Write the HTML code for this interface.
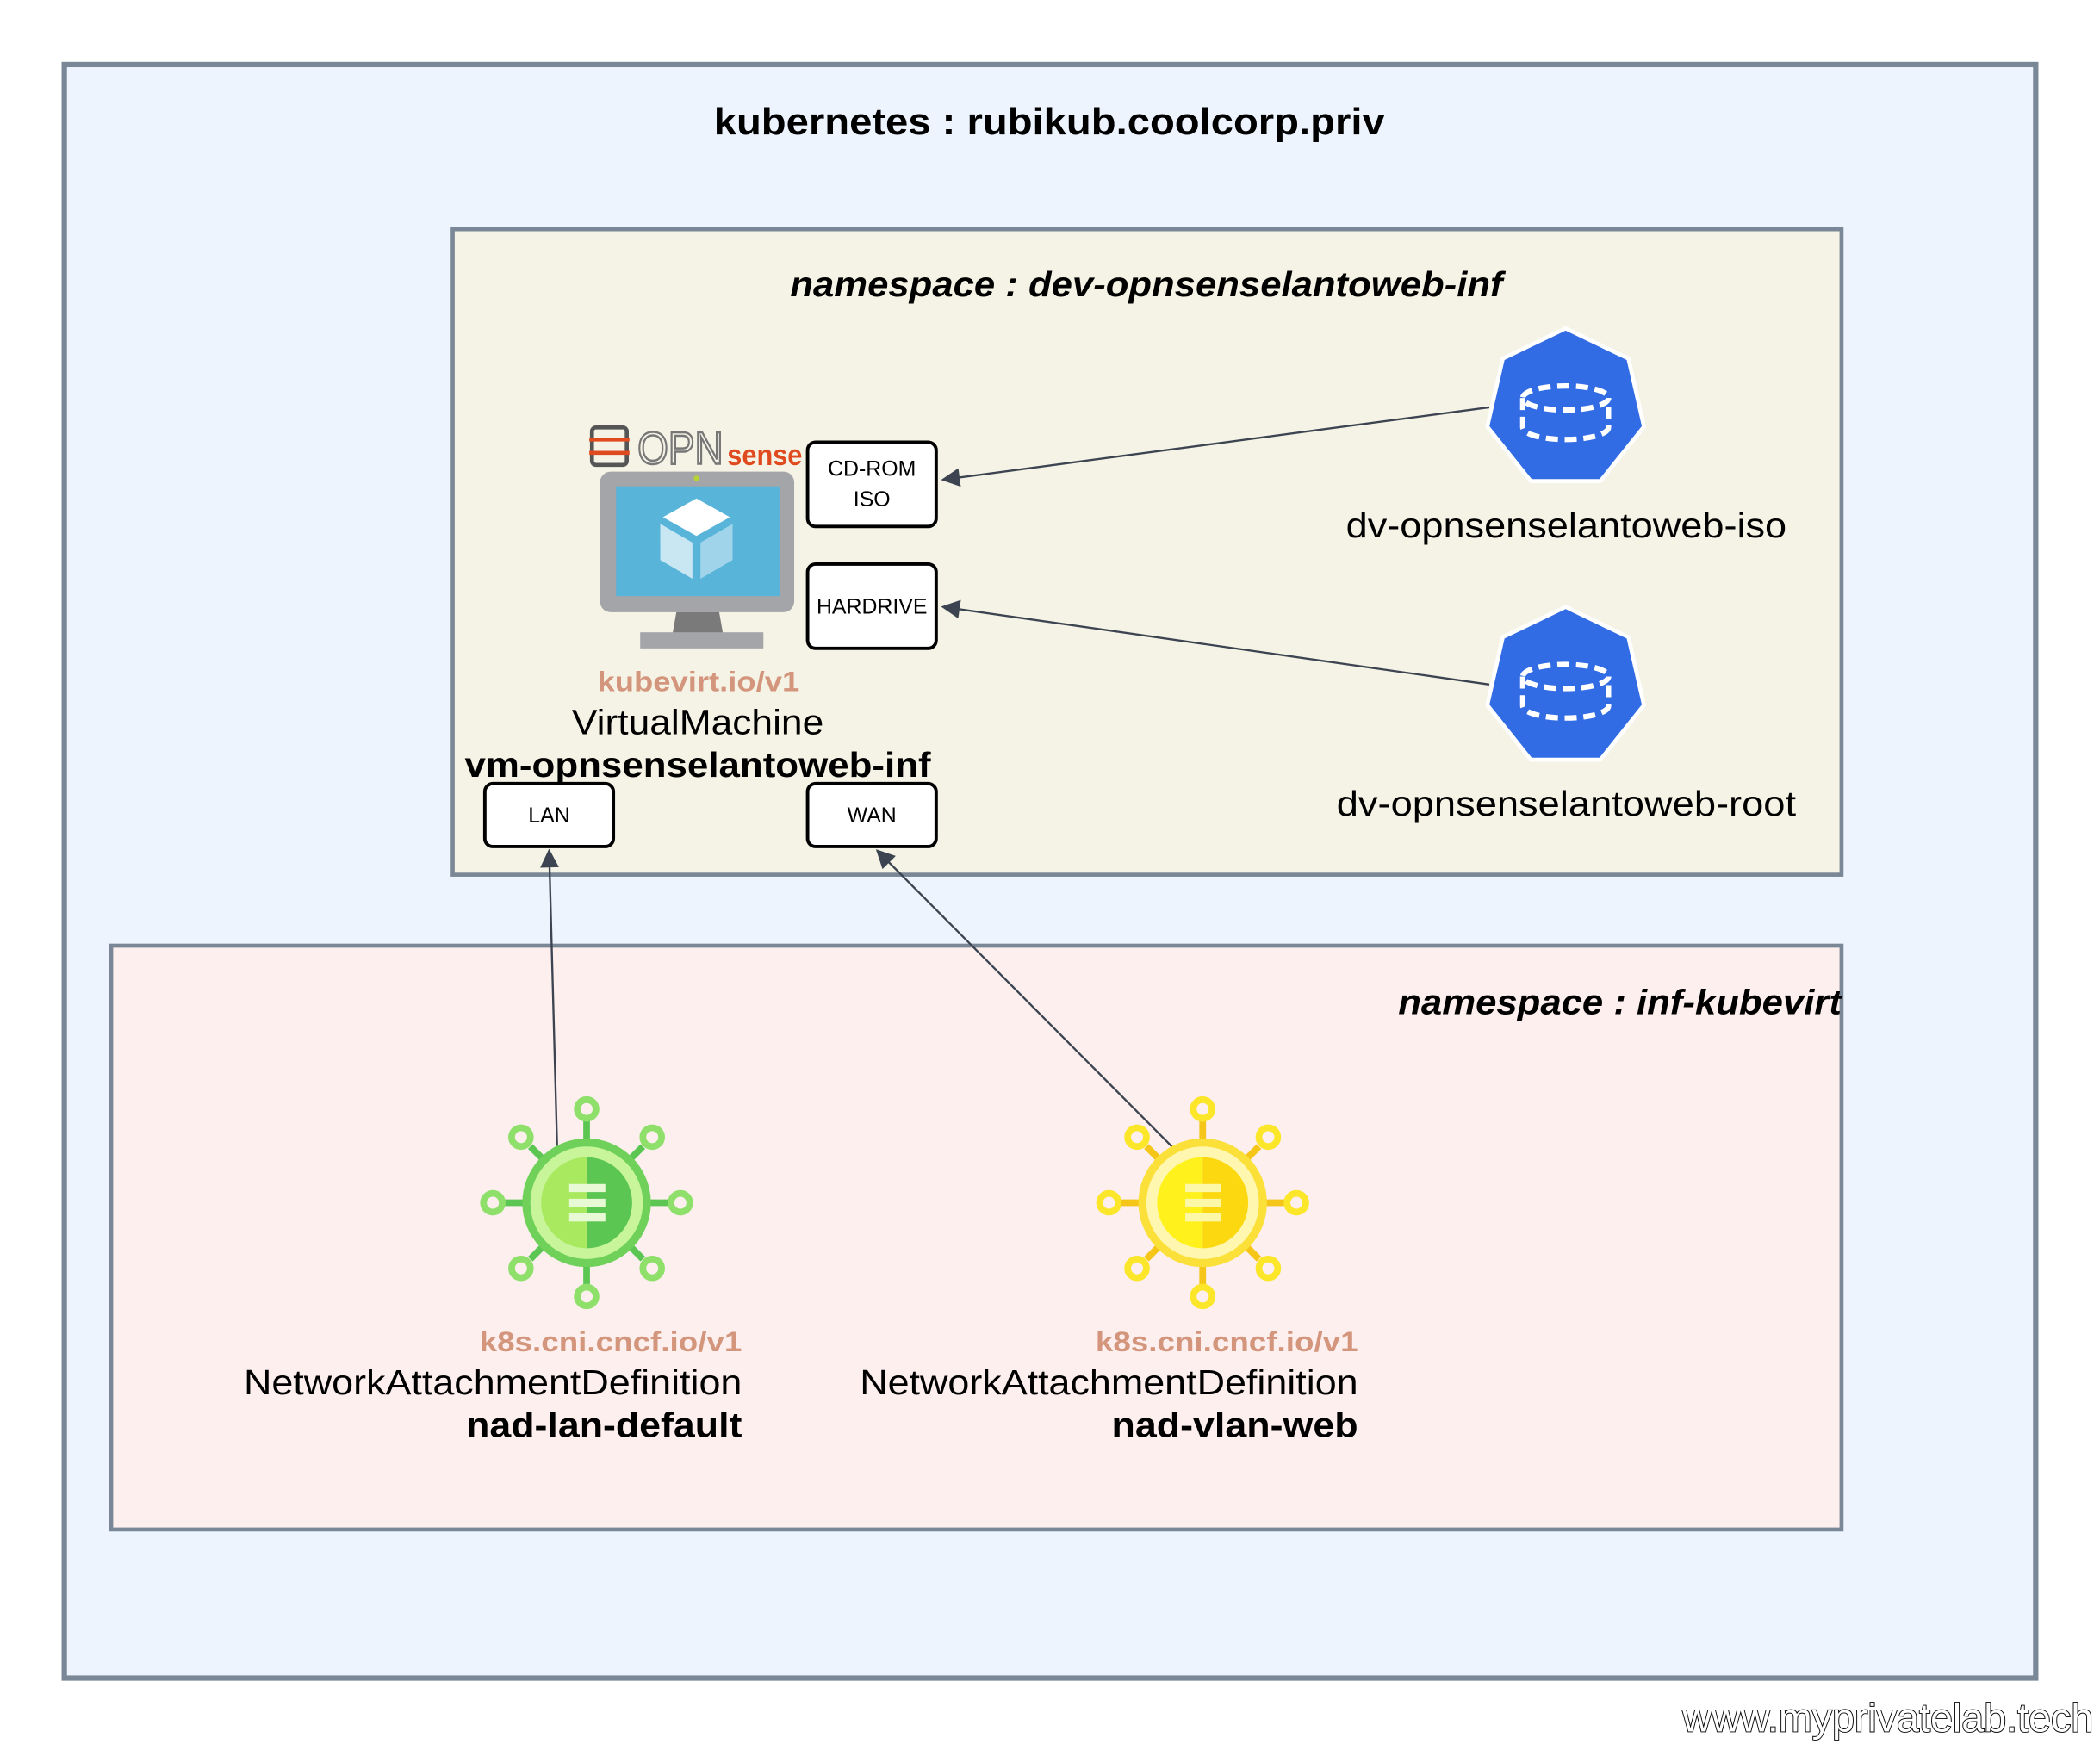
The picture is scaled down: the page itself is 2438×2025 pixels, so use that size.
<!DOCTYPE html>
<html><head><meta charset="utf-8"><style>
html,body{margin:0;padding:0;background:#fff;}
svg{display:block;}
text{font-family:"Liberation Sans",sans-serif;}
</style></head><body>
<svg width="2438" height="2025" viewBox="0 0 1568 1302" xmlns="http://www.w3.org/2000/svg">
<defs>
<marker id="ar2" viewBox="0 0 10 10" refX="9" refY="5" markerWidth="18" markerHeight="14" orient="auto" markerUnits="userSpaceOnUse">
<path d="M0,0 L10,5 L0,10 Z" fill="#3b4450"/>
</marker>
<g id="hept">
<polygon points="0,-60 46.9,-37.4 58.5,13.4 26,54.1 -26,54.1 -58.5,13.4 -46.9,-37.4" fill="#326ce5" stroke="#fff" stroke-width="3" stroke-linejoin="round"/>
<g fill="none" stroke="#fff" stroke-width="4" stroke-dasharray="9,5">
<ellipse cx="0" cy="-8" rx="32" ry="9"/>
<path d="M-32,-8 V14 A32,9 0 0 0 32,14 V-8"/>
</g>
</g>
<g id="nadspokes">
<g stroke-width="5">
<line x1="0" y1="0" x2="0" y2="-62"/><line x1="0" y1="0" x2="0" y2="62"/>
<line x1="0" y1="0" x2="62" y2="0"/><line x1="0" y1="0" x2="-62" y2="0"/>
<line x1="0" y1="0" x2="42" y2="-42"/><line x1="0" y1="0" x2="-42" y2="-42"/>
<line x1="0" y1="0" x2="42" y2="42"/><line x1="0" y1="0" x2="-42" y2="42"/>
</g>
</g>
</defs>

<rect width="1568" height="1302" fill="#fff"/>
<rect x="48" y="48" width="1472" height="1205" fill="#edf4fe" stroke="#7a8797" stroke-width="4"/>
<text x="533" y="100" font-size="28" font-weight="bold" fill="#000" textLength="501" lengthAdjust="spacingAndGlyphs">kubernetes : rubikub.coolcorp.priv</text>

<rect x="338" y="171" width="1037" height="482" fill="#f5f3e5" stroke="#7a8797" stroke-width="3"/>
<text x="590" y="221" font-size="26" font-weight="bold" font-style="italic" fill="#000" textLength="532" lengthAdjust="spacingAndGlyphs">namespace : dev-opnsenselantoweb-inf</text>

<rect x="83" y="706" width="1292" height="436" fill="#fcefed" stroke="#7a8797" stroke-width="3"/>
<text x="1044" y="757" font-size="26" font-weight="bold" font-style="italic" fill="#000" textLength="331" lengthAdjust="spacingAndGlyphs">namespace : inf-kubevirt</text>

<!-- OPNsense logo -->
<g>
<rect x="442" y="319" width="26" height="28" rx="3" fill="none" stroke="#555" stroke-width="3"/>
<line x1="440" y1="328" x2="470" y2="328" stroke="#e04a1f" stroke-width="3"/>
<line x1="440" y1="338" x2="470" y2="338" stroke="#e04a1f" stroke-width="3"/>
<text x="476" y="346" font-size="34" fill="none" stroke="#777" stroke-width="1.6" textLength="64" lengthAdjust="spacingAndGlyphs">OPN</text>
<text x="543" y="347" font-size="22" font-weight="bold" fill="#e04a1f" textLength="56" lengthAdjust="spacingAndGlyphs">sense</text>
</g>
<!-- Monitor -->
<rect x="448" y="352" width="145" height="105" rx="8" fill="#a3a5a8"/>
<rect x="460" y="363" width="122" height="82" fill="#59b4d9"/>
<circle cx="520" cy="357" r="2" fill="#b8d432"/>
<path d="M505,457 L537,457 L540,474 L502,474 Z" fill="#7a7a7a"/>
<rect x="478" y="472" width="92" height="12" fill="#a3a5a8"/>
<polygon points="520,372 545,386 520,400 495,386" fill="#fff"/>
<polygon points="493,391 517,405 517,432 493,418" fill="#c9e6f3"/>
<polygon points="523,405 547,391 547,418 523,432" fill="#9fd4ea"/>

<text x="446" y="516" font-size="21" font-weight="bold" fill="#d4957d" textLength="151" lengthAdjust="spacingAndGlyphs">kubevirt.io/v1</text>
<text x="427" y="548" font-size="26" fill="#000" textLength="188" lengthAdjust="spacingAndGlyphs">VirtualMachine</text>
<text x="347" y="580" font-size="26" font-weight="bold" fill="#000" textLength="348" lengthAdjust="spacingAndGlyphs">vm-opnsenselantoweb-inf</text>

<!-- port boxes -->
<g fill="#fff" stroke="#000" stroke-width="2.5">
<rect x="603" y="330" width="96" height="63" rx="6"/>
<rect x="603" y="421" width="96" height="63" rx="6"/>
<rect x="362" y="585" width="96" height="47" rx="6"/>
<rect x="603" y="585" width="96" height="47" rx="6"/>
</g>
<g font-size="16" text-anchor="middle" fill="#000">
<text x="651" y="355">CD-ROM</text>
<text x="651" y="378">ISO</text>
<text x="651" y="458">HARDRIVE</text>
<text x="410" y="614">LAN</text>
<text x="651" y="614">WAN</text>
</g>

<!-- heptagons -->
<use href="#hept" transform="translate(1169,305)"/>
<use href="#hept" transform="translate(1169,513)"/>
<text x="1005" y="401" font-size="26" fill="#000" textLength="329" lengthAdjust="spacingAndGlyphs">dv-opnsenselantoweb-iso</text>
<text x="998" y="609" font-size="26" fill="#000" textLength="343" lengthAdjust="spacingAndGlyphs">dv-opnsenselantoweb-root</text>

<!-- connectors -->
<g stroke="#3b4450" stroke-width="1.5" fill="none">
<line x1="1112" y1="304" x2="704" y2="358" marker-end="url(#ar2)"/>
<line x1="1112" y1="511" x2="704" y2="453" marker-end="url(#ar2)"/>
<line x1="416" y1="857" x2="410" y2="635" marker-end="url(#ar2)"/>
<line x1="876" y1="857" x2="655" y2="635" marker-end="url(#ar2)"/>
</g>

<!-- NAD green -->
<g transform="translate(438,898)">
<use href="#nadspokes" stroke="#5cc653"/>
<g fill="none" stroke="#8ee06a" stroke-width="5">
<circle cx="0" cy="-70" r="7"/><circle cx="0" cy="70" r="7"/>
<circle cx="70" cy="0" r="7"/><circle cx="-70" cy="0" r="7"/>
<circle cx="49" cy="-49" r="7"/><circle cx="-49" cy="-49" r="7"/>
<circle cx="49" cy="49" r="7"/><circle cx="-49" cy="49" r="7"/>
</g>
<circle r="45" fill="#c8f59a"/>
<circle r="45" fill="none" stroke="#6fd15a" stroke-width="6"/>
<path d="M0,-34 A34,34 0 0 0 0,34 Z" fill="#a8e95f"/>
<path d="M0,-34 A34,34 0 0 1 0,34 Z" fill="#5cc653"/>
<g fill="#e8f9d6"><rect x="-13" y="-14" width="27" height="6"/><rect x="-13" y="-3" width="27" height="6"/><rect x="-13" y="8" width="27" height="6"/></g>
</g>
<!-- NAD yellow -->
<g transform="translate(898,898)">
<use href="#nadspokes" stroke="#f5c518"/>
<g fill="none" stroke="#fbe62a" stroke-width="5">
<circle cx="0" cy="-70" r="7"/><circle cx="0" cy="70" r="7"/>
<circle cx="70" cy="0" r="7"/><circle cx="-70" cy="0" r="7"/>
<circle cx="49" cy="-49" r="7"/><circle cx="-49" cy="-49" r="7"/>
<circle cx="49" cy="49" r="7"/><circle cx="-49" cy="49" r="7"/>
</g>
<circle r="45" fill="#fff7b0"/>
<circle r="45" fill="none" stroke="#fbe03a" stroke-width="6"/>
<path d="M0,-34 A34,34 0 0 0 0,34 Z" fill="#fff21c"/>
<path d="M0,-34 A34,34 0 0 1 0,34 Z" fill="#fbd80f"/>
<g fill="#fdf7a8"><rect x="-13" y="-14" width="27" height="6"/><rect x="-13" y="-3" width="27" height="6"/><rect x="-13" y="8" width="27" height="6"/></g>
</g>

<g>
<text x="358" y="1009" font-size="21" font-weight="bold" fill="#d4957d" textLength="196" lengthAdjust="spacingAndGlyphs">k8s.cni.cncf.io/v1</text>
<text x="182" y="1041" font-size="26" fill="#000" textLength="372" lengthAdjust="spacingAndGlyphs">NetworkAttachmentDefinition</text>
<text x="348" y="1073" font-size="26" font-weight="bold" fill="#000" textLength="206" lengthAdjust="spacingAndGlyphs">nad-lan-default</text>
<text x="818" y="1009" font-size="21" font-weight="bold" fill="#d4957d" textLength="196" lengthAdjust="spacingAndGlyphs">k8s.cni.cncf.io/v1</text>
<text x="642" y="1041" font-size="26" fill="#000" textLength="372" lengthAdjust="spacingAndGlyphs">NetworkAttachmentDefinition</text>
<text x="830" y="1073" font-size="26" font-weight="bold" fill="#000" textLength="184" lengthAdjust="spacingAndGlyphs">nad-vlan-web</text>
</g>

<text x="1563" y="1293" text-anchor="end" font-size="30" fill="#fff" stroke="#000" stroke-width="1.2" paint-order="stroke">www.myprivatelab.tech</text>
</svg>
</body></html>
